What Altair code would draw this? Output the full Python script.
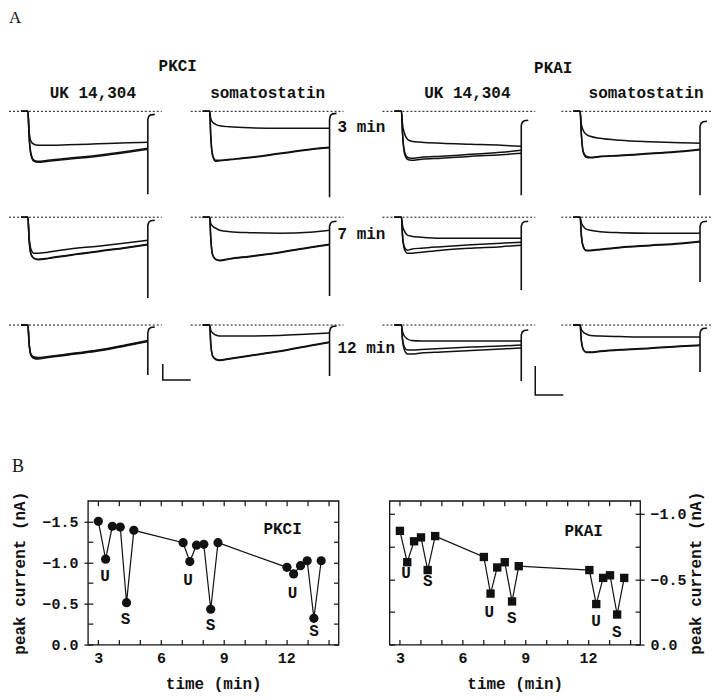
import altair as alt
import pandas as pd

FONT = "Liberation Mono"
SERIF = "Liberation Serif"
INK = "#111111"

# ---------------- Panel A : whole-cell current traces ----------------
# key sample times (ms after the voltage step) shared by every trace
T_KEY = [-7, 0, 1, 3, 6, 10, 20, 40, 70, 100, 120]
# tail-current spike at the end of the step
SPIKE_T = [120, 120, 121, 123, 127]
BASELINE_T = [-19, 134]

COL_HEADERS = ["UK 14,304", "somatostatin", "UK 14,304", "somatostatin"]
GROUP_NAMES = ["PKCI", "PKAI"]
TIME_LABELS = ["3 min", "7 min", "12 min"]
TIME_LABEL_T = 128
TIME_LABEL_I = [-16, -17, -23]

# scale bars (time, current)
SCALEBAR_PKCI_T = [135, 135, 163]
SCALEBAR_PKCI_I = [-39, -55, -55]
SCALEBAR_PKAI_T = [134, 134, 162]
SCALEBAR_PKAI_I = [-41, -70, -70]

# current values (arbitrary units, negative = inward) for control / wash / drug
P11 = {"control": [0, 0, -22, -42, -49, -50, -49, -47, -44, -40, -37],
       "wash":    [0, 0, -23, -44, -50, -51, -50, -48, -45, -41, -38],
       "drug":    [0, 0, -18, -30, -33, -34, -34, -33.5, -32.5, -31.5, -31],
       "spike":   [-83, -8, -5, -3.5, -3]}
P12 = {"control": [0, 0, -24, -44, -49, -49, -48, -46, -42, -38, -36],
       "wash":    [0, 0, -24, -45, -50, -49.5, -48.5, -46.5, -42.5, -38.5, -36.5],
       "drug":    [0, 0, -7, -11, -13, -14.5, -15.5, -16.5, -17, -17, -17],
       "spike":   [-86, -8, -4, -2.5, -2]}
P13 = {"control": [0, 0, -20, -40, -46, -47, -46, -45, -43, -41, -39],
       "wash":    [0, 0, -21, -42, -48, -49, -48, -47, -45, -43.5, -42],
       "drug":    [0, 0, -12, -22, -28, -30, -31, -32, -33, -34, -35],
       "spike":   [-84, -14, -11, -9.5, -9]}
P14 = {"control": [0, 0, -20, -40, -45, -46, -45, -44, -42, -40, -38],
       "wash":    [0, 0, -20, -41, -46, -46.5, -45.5, -44.5, -42.5, -40.5, -38.5],
       "drug":    [0, 0, -12, -19, -23, -25, -27, -29, -30.5, -31.5, -32],
       "spike":   [-84, -15, -12, -10.5, -10]}
P21 = {"control": [0, 0, -20, -37, -41, -42, -41, -38, -34, -30, -27],
       "wash":    [0, 0, -20, -37, -41.5, -42.5, -41.5, -38.5, -34.5, -30.5, -27.5],
       "drug":    [0, 0, -18, -32, -36, -36, -35, -32, -29, -25.5, -23],
       "spike":   [-81, -8, -5, -3.5, -3]}
P22 = {"control": [0, 0, -20, -38, -42, -43, -41.5, -39, -35, -30, -27],
       "wash":    [0, 0, -20, -38, -42.5, -43.5, -42, -39.5, -35.5, -30.5, -27.5],
       "drug":    [0, 0, -6, -9, -11, -13, -14.5, -15.5, -16, -15, -13],
       "spike":   [-79, -9, -6, -4.5, -4]}
P23 = {"control": [0, 0, -17, -30, -33, -32, -31, -29.5, -27.5, -26, -25],
       "wash":    [0, 0, -18, -32, -36, -36, -35, -33, -31, -29.5, -28],
       "drug":    [0, 0, -8, -14, -18, -19, -20, -21, -21, -21, -21],
       "spike":   [-73, -9, -6, -4.5, -4]}
P24 = {"control": [0, 0, -16, -29, -33, -33, -32, -30, -28, -26, -24],
       "wash":    [0, 0, -16, -29.5, -33.5, -33.5, -32.5, -30.5, -28.5, -26.5, -24.5],
       "drug":    [0, 0, -5, -9, -12, -13, -14.5, -15.5, -16, -16, -16],
       "spike":   [-65, -9, -6, -4.5, -4]}
P31 = {"control": [0, 0, -17, -30, -33, -33, -32, -29.5, -25.5, -20, -16],
       "wash":    [0, 0, -17, -30.5, -33.5, -34, -32.5, -30, -26, -20.5, -16.5],
       "drug":    [0, 0, -16, -29, -32, -32.5, -31.5, -29, -25, -19.5, -15.5],
       "spike":   [-50, -8, -4, -2.5, -2]}
P32 = {"control": [0, 0, -18, -31, -34, -35, -33.5, -30.5, -26, -20.5, -17],
       "wash":    [0, 0, -18, -31.5, -34.5, -35.5, -34, -31, -26.5, -21, -17.5],
       "drug":    [0, 0, -5, -8, -10, -11, -11, -11, -10.5, -9, -8],
       "spike":   [-51, -7, -3, -1.5, -1]}
P33 = {"control": [0, 0, -13, -22, -25, -25, -24.5, -23.5, -22, -21, -20],
       "wash":    [0, 0, -15, -25, -29, -29, -28, -27, -25.5, -24, -23],
       "drug":    [0, 0, -6, -11, -14, -15.5, -16, -16, -16, -16, -16],
       "spike":   [-56, -10, -7, -5.5, -5]}
P34 = {"control": [0, 0, -14, -24, -27, -27, -26, -24.5, -23, -21, -20],
       "wash":    [0, 0, -14, -24.5, -27.5, -27.5, -26.5, -25, -23.5, -21.5, -20.5],
       "drug":    [0, 0, -4, -7, -9, -10.5, -11, -11.5, -12, -12, -12],
       "spike":   [-47, -8, -5, -3.5, -3]}

PANELS = [[P11, P12, P13, P14], [P21, P22, P23, P24], [P31, P32, P33, P34]]

# layout of the trace grid
COL_W = [182, 192, 179, 150]
ROW_H = [106, 108, 76]
HEADER_X = [84, 77, 85, 85]
GROUP_X = [169, 171]
GROUP_Y = [-39, -37]


def trace_cell(row, col):
    p = PANELS[row][col]
    xs = alt.Scale(domain=[-19, COL_W[col] - 19], nice=False, zero=False)
    ys = alt.Scale(domain=[-(ROW_H[row] - 6), 6], nice=False, zero=False)
    X = lambda f="t": alt.X(f + ":Q", scale=xs, axis=None)
    Y = lambda f="I": alt.Y(f + ":Q", scale=ys, axis=None)

    recs = []
    for name in ["control", "wash", "drug"]:
        for t, v in zip(T_KEY, p[name]):
            recs.append({"t": t, "I": v, "trace": name})
    traces = pd.DataFrame(recs)
    spike = pd.DataFrame({"t": SPIKE_T, "I": p["spike"], "k": list(range(len(SPIKE_T)))})
    base = pd.DataFrame({"t": [BASELINE_T[0]], "t2": [BASELINE_T[1]], "I": [0]})
    text_style = dict(font=FONT, fontSize=16, fontWeight="bold", color=INK, baseline="middle")

    layers = [
        alt.Chart(base).mark_rule(color=INK, strokeWidth=1, strokeDash=[2, 2], clip=(col == 3)).encode(
            x=X(), x2="t2:Q", y=Y()),
        alt.Chart(traces).mark_line(color=INK, strokeWidth=1.5, interpolate="monotone").encode(
            x=X(), y=Y(), detail="trace:N"),
        alt.Chart(spike).mark_line(color=INK, strokeWidth=1.6).encode(
            x=X(), y=Y(), order="k:Q"),
    ]
    if col == 1:
        lab = pd.DataFrame({"t": [TIME_LABEL_T], "I": [TIME_LABEL_I[row]], "lab": [TIME_LABELS[row]]})
        layers.append(alt.Chart(lab).mark_text(align="left", **text_style).encode(
            x=X(), y=Y(), text="lab:N"))
    if row == 2 and col in (0, 2):
        st = SCALEBAR_PKCI_T if col == 0 else SCALEBAR_PKAI_T
        si = SCALEBAR_PKCI_I if col == 0 else SCALEBAR_PKAI_I
        sb = pd.DataFrame({"t": st, "I": si, "k": [0, 1, 2]})
        layers.append(alt.Chart(sb).mark_line(color=INK, strokeWidth=1.5).encode(
            x=X(), y=Y(), order="k:Q"))
    if row == 0:
        h = pd.DataFrame({"lab": [COL_HEADERS[col]]})
        layers.append(alt.Chart(h).mark_text(align="center", **text_style).encode(
            x=alt.value(HEADER_X[col]), y=alt.value(-12), text="lab:N"))
        if col in (0, 2):
            g = pd.DataFrame({"lab": [GROUP_NAMES[col // 2]]})
            layers.append(alt.Chart(g).mark_text(align="center", **text_style).encode(
                x=alt.value(GROUP_X[col // 2]), y=alt.value(GROUP_Y[col // 2]), text="lab:N"))
        if col == 0:
            a = pd.DataFrame({"lab": ["A"]})
            layers.append(alt.Chart(a).mark_text(align="left", baseline="middle", font=SERIF,
                                                fontSize=17, color=INK).encode(
                x=alt.value(0), y=alt.value(-87), text="lab:N"))

    return alt.layer(*layers).properties(width=COL_W[col], height=ROW_H[row])


cells = [trace_cell(r, c) for r in range(3) for c in range(4)]
panel_a = alt.concat(*cells, columns=4, spacing=0, bounds="flush")

# ---------------- Panel B : peak current vs time ----------------
PKCI_T = [3.0, 3.35, 3.67, 4.05, 4.35, 4.7, 7.06, 7.38, 7.7, 8.05, 8.38, 8.73,
          12.03, 12.35, 12.68, 13.0, 13.32, 13.67]
PKCI_I = [-1.50, -1.04, -1.44, -1.43, -0.51, -1.39, -1.24, -1.01, -1.21, -1.22, -0.43, -1.24,
          -0.94, -0.86, -0.96, -1.02, -0.32, -1.02]
PKCI_LAB_T = [3.32, 4.3, 7.3, 8.37, 12.3, 13.33]
PKCI_LAB_I = [-0.83, -0.31, -0.78, -0.24, -0.63, -0.16]

PKAI_T = [3.0, 3.35, 3.68, 4.01, 4.33, 4.69, 7.02, 7.34, 7.66, 8.02, 8.37, 8.69,
          12.07, 12.4, 12.73, 13.06, 13.4, 13.74]
PKAI_I = [-0.87, -0.63, -0.79, -0.82, -0.57, -0.83, -0.67, -0.39, -0.59, -0.63, -0.33, -0.60,
          -0.57, -0.31, -0.51, -0.53, -0.23, -0.51]
PKAI_LAB_T = [3.29, 4.33, 7.28, 8.36, 12.39, 13.38]
PKAI_LAB_I = [-0.55, -0.49, -0.25, -0.20, -0.18, -0.10]

UDS_LABELS = ["U", "S", "U", "S", "U", "S"]
X_MAJOR = [3, 6, 9, 12]
X_MINOR = [3, 4, 5, 6, 7, 8, 9, 10, 11, 12, 13, 14]


def b_panel(T, I, LT, LI, name, name_t, name_i, ydom, ymajor, yminor, side, shape, size, letter=None):
    xs = alt.Scale(domain=[2.5, 14.5], nice=False, zero=False)
    ys = alt.Scale(domain=ydom, reverse=True, nice=False, zero=False)
    data = pd.DataFrame({"t": T, "I": I})
    labs = pd.DataFrame({"t": LT, "I": LI, "lab": UDS_LABELS})
    nm = pd.DataFrame({"t": [name_t], "I": [name_i], "lab": [name]})
    minor = dict(labels=False, domain=False, grid=False, tickSize=5, offset=-5, title=None)
    if side == "left":
        yextra = dict(titlePadding=14, labelPadding=6)
    else:
        yextra = dict(titlePadding=1, labelPadding=6, titleBaseline="top")

    line = alt.Chart(data).mark_line(color=INK, strokeWidth=1.2).encode(
        x=alt.X("t:Q", scale=xs, axis=alt.Axis(orient="bottom", values=X_MAJOR, format="d",
                                               title="time (min)", tickSize=0, domain=False, grid=False,
                                               labelPadding=6, titlePadding=10)),
        y=alt.Y("I:Q", scale=ys, axis=alt.Axis(orient=side, values=ymajor, format=".1f",
                                               title="peak current (nA)", tickSize=4, domain=False,
                                               grid=False, titleAngle=270, **yextra)))
    pts = alt.Chart(data).mark_point(filled=True, shape=shape, size=size, color=INK, opacity=1).encode(
        x=alt.X("t:Q", scale=xs, axis=alt.Axis(orient="top", values=X_MINOR, **minor)),
        y=alt.Y("I:Q", scale=ys, axis=alt.Axis(orient="left", values=yminor, **minor)))
    txt = alt.Chart(labs).mark_text(font=FONT, fontSize=16, fontWeight="bold", color=INK,
                                    baseline="middle").encode(
        x=alt.X("t:Q", scale=xs, axis=alt.Axis(orient="bottom", values=X_MINOR, **minor)),
        y=alt.Y("I:Q", scale=ys, axis=alt.Axis(orient="right", values=yminor, **minor)),
        text="lab:N")
    ntxt = alt.Chart(nm).mark_text(font=FONT, fontSize=16, fontWeight="bold", color=INK,
                                   baseline="middle").encode(
        x=alt.X("t:Q", scale=xs, axis=None), y=alt.Y("I:Q", scale=ys, axis=None), text="lab:N")
    layers = [line, pts, txt, ntxt]
    if letter:
        lt = pd.DataFrame({"lab": [letter]})
        layers.append(alt.Chart(lt).mark_text(align="left", baseline="middle", font=SERIF,
                                             fontSize=18, color=INK).encode(
            x=alt.value(-76), y=alt.value(-34), text="lab:N"))
    return alt.layer(*layers).resolve_axis(x="independent", y="independent").properties(
        width=251, height=144, view=alt.ViewBackground(stroke=INK, strokeWidth=1.3))


left = b_panel(PKCI_T, PKCI_I, PKCI_LAB_T, PKCI_LAB_I, "PKCI", 11.82, -1.41,
               [-1.75, 0], [-1.5, -1.0, -0.5, 0.0], [-1.5, -1.25, -1.0, -0.75, -0.5, -0.25, 0.0],
               "left", "circle", 85, letter="B")
right = b_panel(PKAI_T, PKAI_I, PKAI_LAB_T, PKAI_LAB_I, "PKAI", 11.8, -0.865,
                [-1.1, 0], [-1.0, -0.5, 0.0], [-1.0, -0.75, -0.5, -0.25, 0.0],
                "right", "square", 70)

# an empty, invisible 1-px column keeps panel B's left axis from shifting panel A
spacer = alt.Chart(pd.DataFrame({"lab": [""]})).mark_text(opacity=0).encode(
    x=alt.value(0), y=alt.value(0), text="lab:N").properties(width=1, height=10)

panel_b = alt.hconcat(spacer, alt.hconcat(left, right, spacing=47), spacing=0)

chart = alt.vconcat(panel_a, panel_b, spacing=58).properties(
    padding=0,
).configure_view(stroke="transparent").configure_axis(
    labelFont=FONT, labelFontSize=15, labelFontWeight="bold", labelColor=INK,
    titleFont=FONT, titleFontSize=16, titleFontWeight="bold", titleColor=INK,
    tickColor=INK, tickWidth=1.2,
)

chart.save("out.html", embed_options={"renderer": "svg", "actions": False})
